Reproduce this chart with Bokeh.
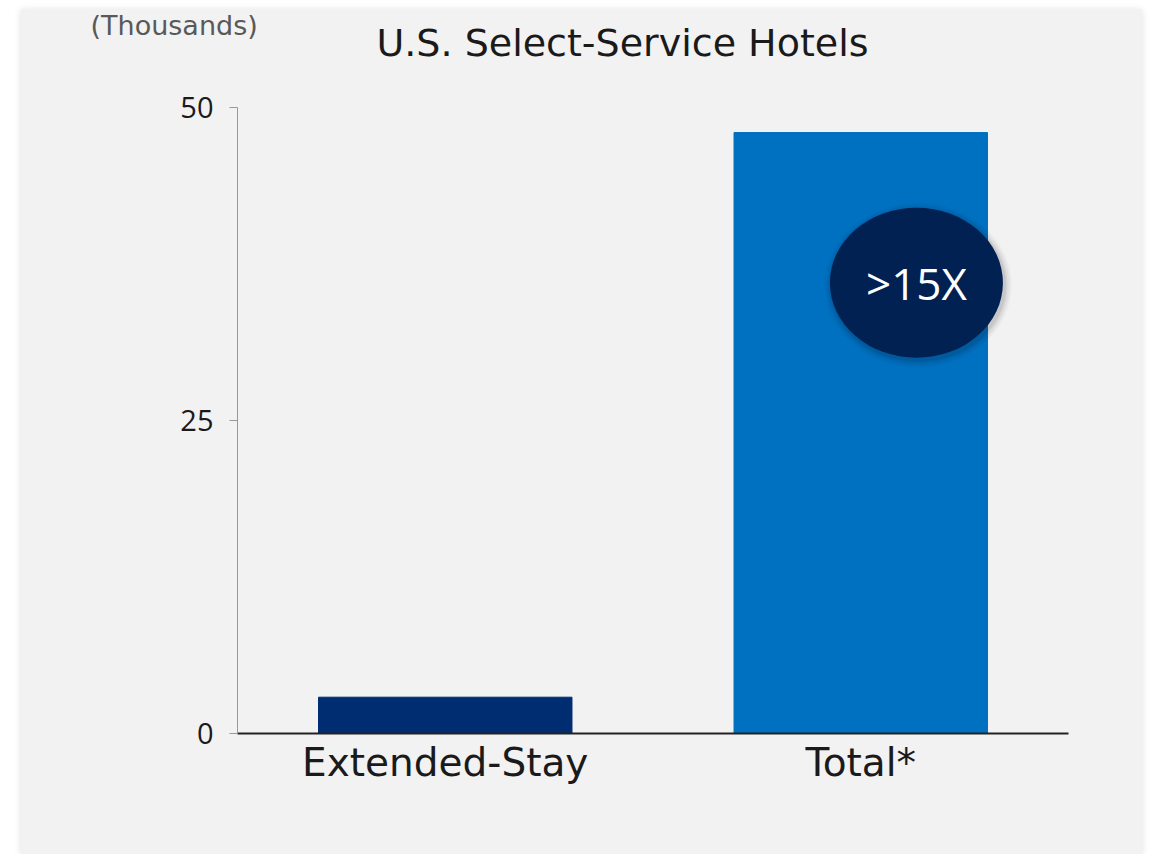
from bokeh.plotting import figure
from bokeh.layouts import column
from bokeh.models import ColumnDataSource, FixedTicker, FactorRange, Range1d
from bokeh.transform import dodge
from bokeh.core.properties import value
from bokeh.embed import file_html
from bokeh.resources import INLINE

# ---- data ----
categories = ["Extended-Stay", "Total*"]
hotels_thousands = [2.9, 48.0]
bar_colors = ["#002d72", "#0070c0"]
y_ticks = [0, 25, 50]
title_text = "U.S. Select-Service Hotels"
unit_text = "(Thousands)"
callout_text = ">15X"
callout_ratio = 0.75  # callout height as a fraction of the Total bar

FONT = "DejaVu Sans"
FONT2 = "Open Sans"
BG = "#f2f2f2"
W = 1121

# ---- header strip (titles) ----
head = figure(width=W, height=70, x_range=Range1d(0, W), y_range=Range1d(70, 0),
              x_axis_type=None, y_axis_type=None, output_backend="svg",
              toolbar_location=None, min_border=0)
head.frame_align = False
head.background_fill_color = BG
head.border_fill_color = BG
head.outline_line_color = None
head.xgrid.visible = False
head.ygrid.visible = False
head.text(x=[601], y=[33], text=[title_text], text_font=value(FONT),
          text_font_size="38px", text_color="#1a1a1a",
          text_align="center", text_baseline="alphabetic")
head.text(x=[69], y=[16], text=[unit_text], text_font=value(FONT),
          text_font_size="27px", text_color="#595959",
          text_align="left", text_baseline="alphabetic")

# ---- main chart ----
src = ColumnDataSource(dict(cat=categories, val=hotels_thousands, color=bar_colors))
callout = ColumnDataSource(dict(
    cat=[categories[1]],
    y=[hotels_thousands[1] * callout_ratio],
    text=[callout_text],
))

p = figure(
    x_range=FactorRange(*categories, range_padding=0),
    y_range=Range1d(0, 50),
    width=W, height=775,
    output_backend="svg", toolbar_location=None,
    min_border_left=216, min_border_right=74,
    min_border_top=28, min_border_bottom=121,
)
p.frame_align = False
p.background_fill_color = BG
p.border_fill_color = BG
p.outline_line_color = None
p.xgrid.visible = False
p.ygrid.visible = False

p.vbar(x="cat", top="val", width=0.61, color="color", source=src)

# callout shadow + ellipse
for grow, a in [(14, 0.03), (10, 0.04), (6, 0.05), (3, 0.06)]:
    p.ellipse(x=dodge("cat", 0.134 + 0.004, range=p.x_range), y=dodge("y", -0.2),
              width=173 + grow, height=150 + grow,
              width_units="screen", height_units="screen",
              fill_color="black", fill_alpha=a, line_color=None, source=callout)
p.ellipse(x=dodge("cat", 0.134, range=p.x_range), y="y",
          width=173, height=150, width_units="screen", height_units="screen",
          fill_color="#002152", line_color=None, source=callout)
p.text(x=dodge("cat", 0.134, range=p.x_range), y="y", text="text",
       text_color="white", text_font=value(FONT2), text_font_size="44px",
       text_align="center", text_baseline="middle", source=callout)

# axes
xa = p.xaxis[0]
xa.major_label_text_font = FONT
xa.major_label_text_font_size = "39px"
xa.major_label_text_color = "#1a1a1a"
xa.major_tick_line_color = None
xa.axis_line_color = "#222222"
xa.axis_line_width = 2
xa.major_label_standoff = 0

ya = p.yaxis[0]
ya.ticker = FixedTicker(ticks=y_ticks, minor_ticks=[])
ya.major_tick_out = 8
ya.major_tick_in = 0
ya.axis_line_color = "#999999"
ya.major_tick_line_color = "#999999"
ya.minor_tick_line_color = None
ya.major_label_text_font = FONT2
ya.major_label_text_font_size = "29px"
ya.major_label_text_color = "#1a1a1a"
ya.major_label_standoff = 16

layout = column(head, p, spacing=0, margin=(9, 0, 0, 21),
                styles={"box-shadow": "0 1px 7px rgba(0,0,0,0.13)",
                        "background-color": BG})

open("out.html", "w").write(file_html(layout, INLINE))
